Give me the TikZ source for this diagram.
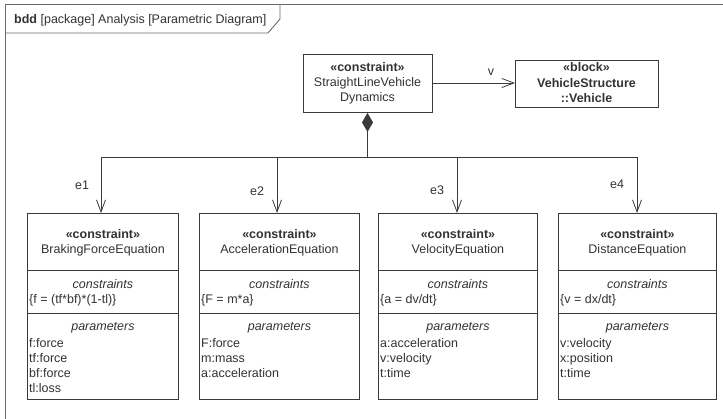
\documentclass[tikz,border=0pt]{standalone}
\usepackage{fontspec}
\setmainfont{Liberation Sans}
\usetikzlibrary{arrows.meta,shapes.geometric}
\definecolor{linec}{HTML}{3A3A3A}
\definecolor{framec}{HTML}{6A6A6A}
\definecolor{textc}{HTML}{333333}
\tikzset{
  line/.style={draw=linec, line width=0.9pt},
  cbox/.style={draw=linec, line width=0.9pt, fill=white, rectangle, inner sep=0pt, minimum height=186pt},
  txt/.style={inner sep=0pt, text=textc, font=\fontsize{12.5}{14}\selectfont},
  btxt/.style={txt, font=\fontsize{12.5}{14}\selectfont\bfseries},
  itxt/.style={txt, font=\fontsize{12.5}{14}\selectfont\itshape},
  openarrow/.style={line, -{Straight Barb[length=12pt,width=9pt,line width=0.8pt]}},
  comp/.style={line, {Diamond[length=19pt,width=11pt,fill=linec]}-},
}
\newcommand\umlcbox[6]{%
  \node[cbox, minimum width=#3pt, anchor=north west] (#1) at (#2,-213) {};
  \draw[line] ([yshift=-57pt]#1.north west) -- ([yshift=-57pt]#1.north east);
  \draw[line] ([yshift=-100pt]#1.north west) -- ([yshift=-100pt]#1.north east);
  \node[btxt, anchor=base] (#1s) at ([yshift=-25pt]#1.north) {«constraint»};
  \node[txt, anchor=base] (#1n) at ([yshift=-40pt]#1.north) {#4};
  \node[itxt, anchor=base] (#1c) at ([yshift=-75pt]#1.north) {constraints};
  \node[txt, anchor=base west] (#1e) at ([xshift=2pt,yshift=-90pt]#1.north west) {#5};
  \node[itxt, anchor=base] (#1p) at ([yshift=-117pt]#1.north) {parameters};
  \foreach \t [count=\i] in {#6} {
    \node[txt, anchor=base west] (#1l\i) at ([xshift=2pt,yshift={-134pt-15.3pt*(\i-1)}]#1.north west) {\t};
  }
}
\begin{document}
\begin{tikzpicture}[x=1pt,y=1pt]
\useasboundingbox (0,0) rectangle (723,-418);
\fill[white] (0,0) rectangle (723,-418);
\begin{scope}
\clip (0,0) rectangle (723,-418);
% frame
\draw[draw=framec, line width=0.9pt] (5,-430) -- (5,-4) -- (735,-4);
\draw[draw=framec, line width=0.9pt] (5,-33) -- (268,-33) -- (280,-19) -- (280,-4);
\end{scope}
\node[txt, anchor=base west] (title) at (14,-23) {\textbf{bdd} [package] Analysis [Parametric Diagram]};

% top constraint block
\node[draw=linec, line width=0.9pt, fill=white, inner sep=0pt, minimum width=129pt, minimum height=58pt, anchor=north west] (top) at (303,-54) {};
\node[btxt, anchor=base] (tops) at (367.5,-71) {«constraint»};
\node[txt, anchor=base] (topn1) at (367.5,-86) {StraightLineVehicle};
\node[txt, anchor=base] (topn2) at (367.5,-101) {Dynamics};

% vehicle block
\node[draw=linec, line width=0.9pt, fill=white, inner sep=0pt, minimum width=143pt, minimum height=47pt, anchor=north west] (veh) at (515,-60) {};
\node[btxt, anchor=base] (vehs) at (586.5,-71) {«block»};
\node[btxt, anchor=base] (vehn1) at (586.5,-87) {VehicleStructure};
\node[btxt, anchor=base] (vehn2) at (586.5,-102) {::Vehicle};

\draw[openarrow] (top.east |- 0,-83) -- (veh.west |- 0,-83);
\node[txt, anchor=base] (vlab) at (491,-75) {v};

% constraint boxes
\umlcbox{b1}{27}{151}{BrakingForceEquation}{\{f = (tf*bf)*(1-tl)\}}{f:force,tf:force,bf:force,tl:loss}
\umlcbox{b2}{199}{160}{AccelerationEquation}{\{F = m*a\}}{F:force,m:mass,a:acceleration}
\umlcbox{b3}{378}{159}{VelocityEquation}{\{a = dv/dt\}}{a:acceleration,v:velocity,t:time}
\umlcbox{b4}{558}{158}{DistanceEquation}{\{v = dx/dt\}}{v:velocity,x:position,t:time}

% composition tree
\coordinate (hub) at (367.5,-157);
\coordinate (j1) at (101,-157);
\coordinate (j2) at (277,-157);
\coordinate (j3) at (457,-157);
\coordinate (j4) at (637,-157);
\draw[comp] (top.south -| hub) -- (hub);
\draw[line] (j1) -- (j4);
\draw[openarrow] (j1) -- (j1 |- b1.north);
\draw[openarrow] (j2) -- (j2 |- b2.north);
\draw[openarrow] (j3) -- (j3 |- b3.north);
\draw[openarrow] (j4) -- (j4 |- b4.north);
\node[txt, anchor=base west] (e1) at (75,-189) {e1};
\node[txt, anchor=base west] (e2) at (250,-195) {e2};
\node[txt, anchor=base west] (e3) at (430,-194) {e3};
\node[txt, anchor=base west] (e4) at (610,-188) {e4};
\end{tikzpicture}
\end{document}
